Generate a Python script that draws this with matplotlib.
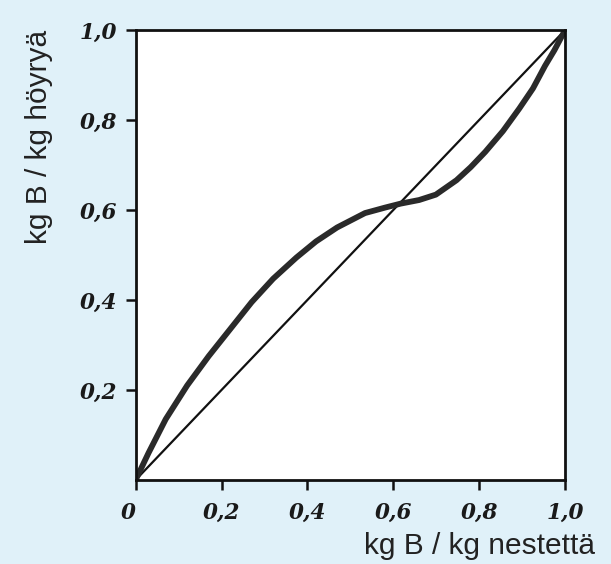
import matplotlib
matplotlib.use("Agg")
import matplotlib.pyplot as plt

# Equilibrium curve (liquid mass fraction x, vapour mass fraction y)
x_liquid = [0.0, 0.03, 0.07, 0.12, 0.17, 0.22, 0.27, 0.32, 0.374, 0.42, 0.469,
            0.534, 0.58, 0.617, 0.66, 0.699, 0.747, 0.78, 0.814, 0.855, 0.893,
            0.925, 0.953, 0.975, 1.0]
y_vapour = [0.0, 0.06, 0.135, 0.21, 0.275, 0.335, 0.395, 0.447, 0.494, 0.53, 0.561,
            0.593, 0.605, 0.614, 0.622, 0.634, 0.666, 0.695, 0.729, 0.775, 0.825,
            0.87, 0.92, 0.955, 1.0]
diag = [0.0, 1.0]

x_ticks = [0.0, 0.2, 0.4, 0.6, 0.8, 1.0]
x_ticklabels = ["0", "0,2", "0,4", "0,6", "0,8", "1,0"]
y_ticks = [0.2, 0.4, 0.6, 0.8, 1.0]
y_ticklabels = ["0,2", "0,4", "0,6", "0,8", "1,0"]
xlabel = "kg B / kg nestettä"
ylabel = "kg B / kg höyryä"

bg = "#e0f1f9"
fig = plt.figure(figsize=(6.11, 5.64), dpi=100, facecolor=bg)
ax = fig.add_axes([0.222, 0.149, 0.703, 0.798])
ax.set_facecolor("white")

ax.plot(diag, diag, color="#111111", lw=1.6)
ax.plot(x_liquid, y_vapour, color="#2a2a2a", lw=4.2, solid_capstyle="round",
        solid_joinstyle="round")

ax.set_xlim(0, 1)
ax.set_ylim(0, 1)
for s in ax.spines.values():
    s.set_linewidth(2.0)
    s.set_color("#111111")

tick_font = dict(family="DejaVu Serif", style="italic", weight="bold", size=15.5,
                 color="#1a1a1a")
ax.set_xticks(x_ticks)
ax.set_xticklabels(x_ticklabels, **tick_font)
ax.set_yticks(y_ticks)
ax.set_yticklabels(y_ticklabels, **tick_font)
ax.tick_params(axis="both", direction="out", length=7, width=1.8, color="#111111")
ax.tick_params(axis="x", pad=9)
ax.tick_params(axis="y", pad=6)
# shift the "0" label left of the origin
ax.get_xticklabels()[0].set_horizontalalignment("right")

ax.set_xlabel(xlabel, family="Liberation Sans", size=21.5, color="#222222")
ax.xaxis.set_label_coords(1.07, -0.115)
ax.xaxis.label.set_horizontalalignment("right")
ax.set_ylabel(ylabel, family="Liberation Sans", size=21.5, color="#222222")
ax.yaxis.set_label_coords(-0.226, 1.0)
ax.yaxis.label.set_verticalalignment("center")
ax.yaxis.label.set_horizontalalignment("right")

fig.savefig("out.png", dpi=100, facecolor=bg)
